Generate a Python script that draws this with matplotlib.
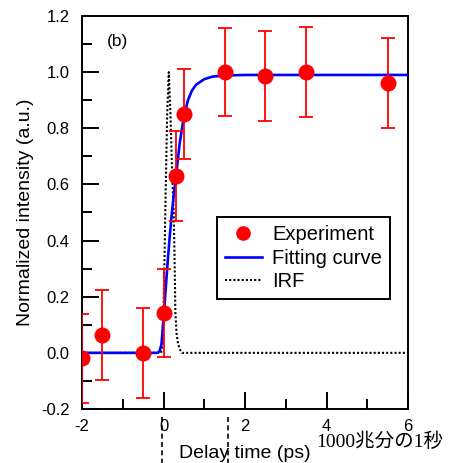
import matplotlib
matplotlib.use("Agg")
import matplotlib.pyplot as plt
from matplotlib.ticker import MultipleLocator, FormatStrFormatter
from matplotlib.lines import Line2D
import matplotlib.transforms as mtransforms

plt.rcParams['font.family'] = ['Liberation Sans', 'DejaVu Sans']

# Experimental data
exp_x = [-2.0, -1.5, -0.5, 0.0, 0.3, 0.5, 1.5, 2.5, 3.5, 5.5]
exp_y = [-0.02, 0.065, 0.0, 0.143, 0.63, 0.85, 1.0, 0.987, 1.0, 0.962]
exp_err = [0.16, 0.16, 0.16, 0.157, 0.16, 0.16, 0.158, 0.16, 0.16, 0.16]

# Fitting curve
fit_x = [-2.0, -0.15, -0.1, -0.05, 0.0, 0.05, 0.1, 0.15, 0.2, 0.25, 0.3, 0.4, 0.5,
         0.6, 0.7, 0.8, 1.0, 1.2, 1.5, 2.0, 6.0]
fit_y = [0.0, 0.0, 0.005, 0.03, 0.12, 0.22, 0.32, 0.41, 0.49, 0.56, 0.62, 0.75, 0.84,
         0.9, 0.935, 0.955, 0.975, 0.984, 0.988, 0.99, 0.99]

# Instrument response function
irf_x = [-2.0, -0.06, -0.03, 0.0, 0.02, 0.05, 0.09, 0.13, 0.17, 0.21, 0.25, 0.27,
         0.29, 0.32, 0.36, 0.41, 0.46, 6.0]
irf_y = [0.0, 0.0, 0.03, 0.15, 0.3, 0.55, 0.85, 1.0, 0.85, 0.65, 0.5, 0.35,
         0.15, 0.07, 0.03, 0.01, 0.0, 0.0]

legend_labels = ['Experiment', 'Fitting curve', 'IRF']

W, H = 453, 463
fig = plt.figure(figsize=(W / 100, H / 100), dpi=100)
ax = fig.add_axes([82 / W, 1 - 409 / H, (408 - 82) / W, (409 - 16) / H])

ax.plot(irf_x, irf_y, color='black', lw=1.5, ls=(0, (1, 1)), zorder=2)
ax.plot(fit_x, fit_y, color='#0000ff', lw=1.9, zorder=3)
ax.errorbar(exp_x, exp_y, yerr=exp_err, fmt='o', color='#ff0000', ms=10.5,
            elinewidth=1.3, capsize=5.3, capthick=1.3, zorder=4)

ax.set_xlim(-2, 6)
ax.set_ylim(-0.2, 1.2)
ax.xaxis.set_major_locator(MultipleLocator(2))
ax.xaxis.set_minor_locator(MultipleLocator(1))
ax.yaxis.set_major_locator(MultipleLocator(0.2))
ax.yaxis.set_minor_locator(MultipleLocator(0.1))
ax.yaxis.set_major_formatter(FormatStrFormatter('%.1f'))
ax.xaxis.set_major_formatter(FormatStrFormatter('%d'))

ax.tick_params(which='both', direction='in', top=False, right=False, width=1.4,
               labelsize=12)
ax.tick_params(which='major', length=12)
ax.tick_params(which='minor', length=7)
ax.tick_params(axis='y', which='major', pad=9)
ax.tick_params(axis='x', which='major', pad=7)
for s in ax.spines.values():
    s.set_linewidth(1.4)

ax.set_ylabel('Normalized intensity (a.u.)', fontsize=14, labelpad=5)
ax.set_xlabel('Delay time (ps)', fontsize=14, labelpad=8)

ax.text(0.077, 0.934, '(b)', transform=ax.transAxes, fontsize=12.5, va='center', ha='left')

h_exp = Line2D([], [], marker='o', color='#ff0000', ls='none', ms=9.5)
h_fit = Line2D([], [], color='#0000ff', lw=1.9)
h_irf = Line2D([], [], color='black', lw=1.5, ls=(0, (1, 1)))
leg = ax.legend([h_exp, h_fit, h_irf], legend_labels,
                loc='upper left', bbox_to_anchor=(216.7 / W, 1 - 217.3 / H),
                bbox_transform=fig.transFigure, borderaxespad=0, fontsize=14.5,
                frameon=True, fancybox=False, edgecolor='black', framealpha=1,
                handlelength=1.85, handletextpad=0.5, labelspacing=0.22,
                borderpad=0.4, numpoints=1)
leg.get_frame().set_linewidth(1.4)

# Dashed guide lines below the axis
trans = mtransforms.blended_transform_factory(ax.transData, fig.transFigure)
for xv in [-0.03, 1.58]:
    ln = Line2D([xv, xv], [1 - 417 / H, 0.0], transform=trans, color='black',
                lw=1.2, ls=(0, (3, 2)), clip_on=False)
    fig.add_artist(ln)

fig.text(316 / W, 1 - 446.7 / H, '1000兆分の1秒', fontsize=14,
         family=['Liberation Serif', 'Noto Sans CJK JP'], ha='left', va='baseline')

fig.savefig('out.png', dpi=100)
